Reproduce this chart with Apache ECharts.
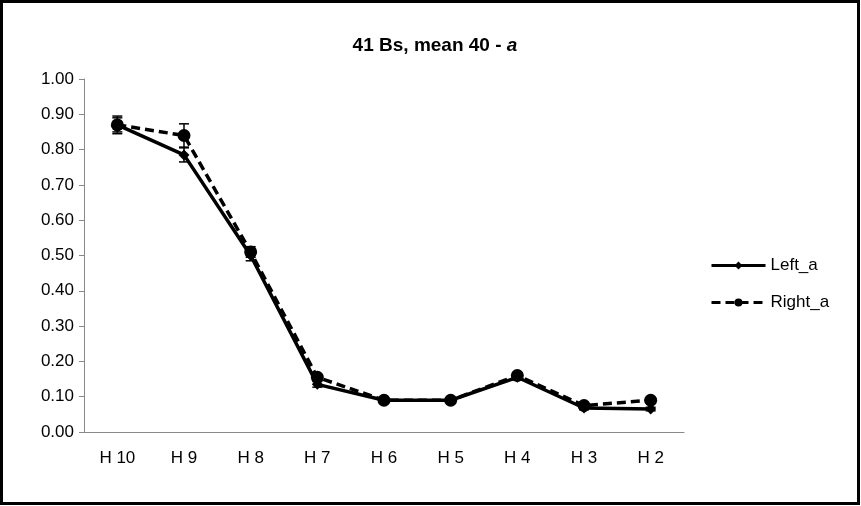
<!DOCTYPE html>
<html><head><meta charset="utf-8">
<script src="https://cdn.jsdelivr.net/npm/echarts@6/dist/echarts.min.js"></script>
<style>html,body{margin:0;padding:0;background:#fff}#c{width:861px;height:506px}</style>
</head><body><div id="c"></div>
<script>
const categories = ['H 10','H 9','H 8','H 7','H 6','H 5','H 4','H 3','H 2'];
const leftA  = [0.870, 0.785, 0.500, 0.135, 0.090, 0.090, 0.155, 0.068, 0.065];
const rightA = [0.870, 0.840, 0.510, 0.155, 0.090, 0.090, 0.160, 0.075, 0.090];
const leftErr  = [0.020, 0.020, 0.015, 0.008, 0.005, 0.005, 0.008, 0.005, 0.005];
const rightErr = [0.025, 0.033, 0.015, 0.008, 0.005, 0.005, 0.008, 0.005, 0.005];
const yTicks = [0,0.1,0.2,0.3,0.4,0.5,0.6,0.7,0.8,0.9,1.0];

function errData(vals, errs){ return vals.map((v,i)=>[i, v-errs[i], v+errs[i]]); }
function errRender(params, api){
  const x = api.coord([api.value(0), api.value(1)]);
  const y = api.coord([api.value(0), api.value(2)]);
  const w = 5;
  return {type:'group', children:[
    {type:'line', shape:{x1:x[0],y1:x[1],x2:y[0],y2:y[1]}, style:{stroke:'#000',lineWidth:1.5}},
    {type:'line', shape:{x1:x[0]-w,y1:x[1],x2:x[0]+w,y2:x[1]}, style:{stroke:'#000',lineWidth:1.5}},
    {type:'line', shape:{x1:y[0]-w,y1:y[1],x2:y[0]+w,y2:y[1]}, style:{stroke:'#000',lineWidth:1.5}}
  ]};
}
const chart = echarts.init(document.getElementById('c'));
chart.setOption({
  animation:false,
  textStyle:{fontFamily:'Liberation Sans, Arial, sans-serif'},
  title:{
    text:'{b|41 Bs, mean 40 - }{i|a}', left:430, textAlign:'center', top:31,
    textStyle:{rich:{
      b:{fontSize:19,fontWeight:'bold',color:'#000',fontFamily:'Liberation Sans'},
      i:{fontSize:19,fontWeight:'bold',fontStyle:'italic',color:'#000',fontFamily:'Liberation Sans'}
    }}
  },
  graphic:[{type:'rect', shape:{x:1.5,y:1.5,width:857,height:502}, style:{fill:'none',stroke:'#000',lineWidth:3}, z:100}],
  legend:{
    orient:'vertical', left:705, top:252, itemWidth:54, itemHeight:10, itemGap:20,
    lineStyle:{width:3},
    textStyle:{fontSize:17,color:'#000',fontFamily:'Liberation Sans'},
    data:['Left_a','Right_a']
  },
  grid:{left:84, right:177, top:79, bottom:74},
  xAxis:{
    type:'category', data:categories, boundaryGap:true,
    axisLine:{lineStyle:{color:'#888',width:1}},
    axisTick:{length:8, lineStyle:{color:'#888'}},
    axisLabel:{color:'#000',fontSize:17,margin:18}
  },
  yAxis:{
    type:'value', min:0, max:1, interval:0.1,
    splitLine:{show:false},
    axisLine:{show:true,lineStyle:{color:'#888',width:1}},
    axisTick:{show:true,length:5,lineStyle:{color:'#888'}},
    axisLabel:{color:'#000',fontSize:17,margin:10,formatter:v=>v.toFixed(2)}
  },
  series:[
    {name:'Left_a', type:'line', data:leftA, symbol:'diamond', symbolSize:11,
     lineStyle:{color:'#000',width:3.5}, itemStyle:{color:'#000'}, z:3},
    {name:'Right_a', type:'line', data:rightA, symbol:'circle', symbolSize:13,
     lineStyle:{color:'#000',width:3.5,type:[9,5]}, itemStyle:{color:'#000'}, z:4},
    {type:'custom', data:errData(leftA,leftErr), renderItem:errRender, z:5, silent:true},
    {type:'custom', data:errData(rightA,rightErr), renderItem:errRender, z:5, silent:true}
  ]
});
</script></body></html>
